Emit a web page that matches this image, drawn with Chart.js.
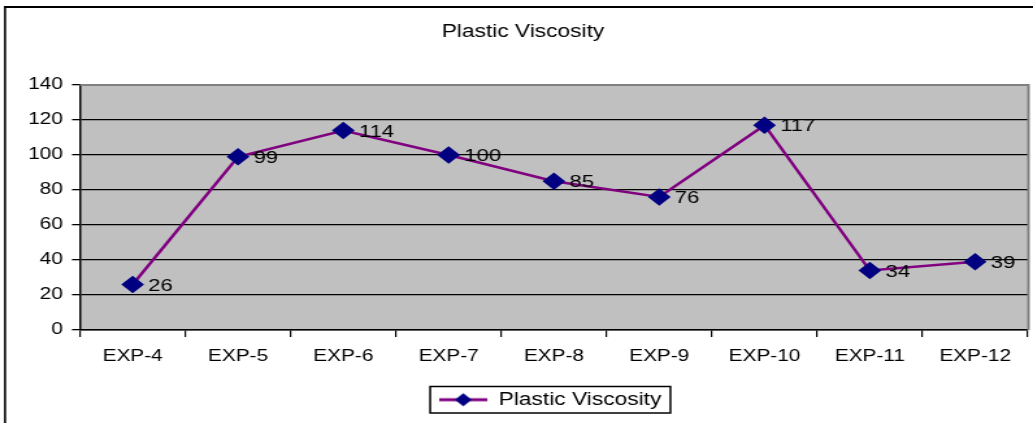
<!DOCTYPE html>
<html><head><meta charset="utf-8">
<script src="https://cdn.jsdelivr.net/npm/chart.js@4"></script>
<style>
html,body{margin:0;padding:0;background:#fff;overflow:hidden}
#outer{width:1033px;height:423px;overflow:hidden;position:relative}
#wrap{width:795px;height:423px;transform:scaleX(1.29937);transform-origin:0 0;position:absolute;left:0;top:0}
canvas{display:block}
</style>
</head><body><div id="outer"><div id="wrap"><canvas id="c" width="795" height="423"></canvas></div></div>
<script>
const categories = ["EXP-4","EXP-5","EXP-6","EXP-7","EXP-8","EXP-9","EXP-10","EXP-11","EXP-12"];
const plasticViscosity = [26, 99, 114, 100, 85, 76, 117, 34, 39];
const yTicks = [0, 20, 40, 60, 80, 100, 120, 140];
const seriesName = "Plastic Viscosity";
const FONT = "'Liberation Sans', Arial, sans-serif";

function legendIcon(){
  const cv = document.createElement('canvas');
  cv.width = 37; cv.height = 16;
  const g = cv.getContext('2d');
  g.strokeStyle = '#800080'; g.lineWidth = 3;
  g.beginPath(); g.moveTo(0,8); g.lineTo(37,8); g.stroke();
  g.fillStyle = '#000080';
  g.beginPath(); g.moveTo(18.5,1.5); g.lineTo(25,8); g.lineTo(18.5,14.5); g.lineTo(12,8); g.closePath(); g.fill();
  return cv;
}
const icon = legendIcon();

const decor = {
  id: 'decor',
  afterLayout(chart){
    const lg = chart.legend;
    if (lg){ lg.left += 26; lg.right += 26; }
    const tb = chart.titleBlock;
    if (tb){ tb.left += 5; tb.right += 5; }
  },
  beforeDraw(chart){
    const {ctx, chartArea:a} = chart;
    ctx.save();
    ctx.fillStyle = '#fff'; ctx.fillRect(0,0,chart.width,chart.height);
    ctx.strokeStyle = '#000';
    ctx.lineWidth = 1.6;
    ctx.beginPath(); ctx.moveTo(3.9, 6); ctx.lineTo(3.9, chart.height + 5); ctx.stroke();
    ctx.lineWidth = 2;
    ctx.beginPath(); ctx.moveTo(3.1, 7); ctx.lineTo(chart.width + 5, 7); ctx.stroke();
    ctx.fillStyle = '#C0C0C0';
    ctx.fillRect(a.left,a.top,a.right-a.left,a.bottom-a.top);
    ctx.restore();
  },
  afterDatasetsDraw(chart){
    const {ctx, chartArea:a} = chart;
    ctx.save();
    ctx.strokeStyle = '#808080'; ctx.lineWidth = 2;
    ctx.beginPath();
    ctx.moveTo(a.left, a.top); ctx.lineTo(a.right + 0.5, a.top); ctx.lineTo(a.right + 0.5, a.bottom);
    ctx.stroke();
    const meta = chart.getDatasetMeta(0);
    ctx.fillStyle = '#000';
    ctx.font = '17px ' + FONT;
    ctx.textAlign = 'left'; ctx.textBaseline = 'middle';
    meta.data.forEach((pt,i)=>{
      ctx.fillText(String(plasticViscosity[i]), pt.x + 12, pt.y + 1.5);
    });
    const hb = chart.legend.legendHitBoxes[0];
    if (hb){
      ctx.strokeStyle = '#000'; ctx.lineWidth = 1.5;
      ctx.strokeRect(hb.left - 7, hb.top - 4.5, hb.width + 14, hb.height + 9);
    }
    ctx.restore();
  }
};

new Chart(document.getElementById('c'), {
  type: 'line',
  data: {
    labels: categories,
    datasets: [{
      label: seriesName,
      data: plasticViscosity,
      borderColor: '#800080',
      borderWidth: 2.5,
      pointStyle: 'rectRot',
      pointRadius: 7,
      pointHoverRadius: 7,
      pointBackgroundColor: '#000080',
      pointBorderColor: '#000080',
      tension: 0
    }]
  },
  options: {
    responsive: false,
    animation: false,
    devicePixelRatio: 1,
    layout: { autoPadding: false, padding: { left: 4, right: 4, top: 0, bottom: 4.5 } },
    plugins: {
      tooltip: { enabled: false },
      title: {
        display: true, text: seriesName, color: '#000',
        font: { family: FONT, size: 17.5, weight: 'normal' },
        padding: { top: 22, bottom: 42 }
      },
      legend: {
        position: 'bottom',
        labels: {
          color: '#000',
          font: { family: FONT, size: 17.5 },
          usePointStyle: true,
          pointStyleWidth: 37,
          boxWidth: 37,
          padding: 8,
          generateLabels(chart){
            return [{ text: seriesName, pointStyle: icon, fillStyle: '#000080', strokeStyle: '#800080', lineWidth: 0, datasetIndex: 0, hidden: false }];
          }
        }
      }
    },
    scales: {
      x: {
        offset: true,
        grid: { offset: true, drawOnChartArea: false, drawTicks: true, tickLength: 7, color: '#000', lineWidth: 1.2 },
        border: { color: '#000', width: 1.5 },
        ticks: { color: '#000', font: { family: FONT, size: 16 }, padding: 10, maxRotation: 0, autoSkip: false },
        afterFit(s){ s.height = 53; s.paddingLeft = 0; s.paddingRight = 0; }
      },
      y: {
        min: 0, max: 140,
        afterBuildTicks(s){ s.ticks = yTicks.map(v=>({value:v})); },
        grid: { color: '#000', lineWidth: 1.3, tickLength: 6.2, drawTicks: true },
        border: { color: '#000', width: 1.5 },
        ticks: { color: '#000', font: { family: FONT, size: 16 }, padding: 7 },
        afterFit(s){ s.width = 57.6; s.paddingTop = 0; s.paddingBottom = 0; }
      }
    }
  },
  plugins: [decor]
});
</script>
</body></html>
